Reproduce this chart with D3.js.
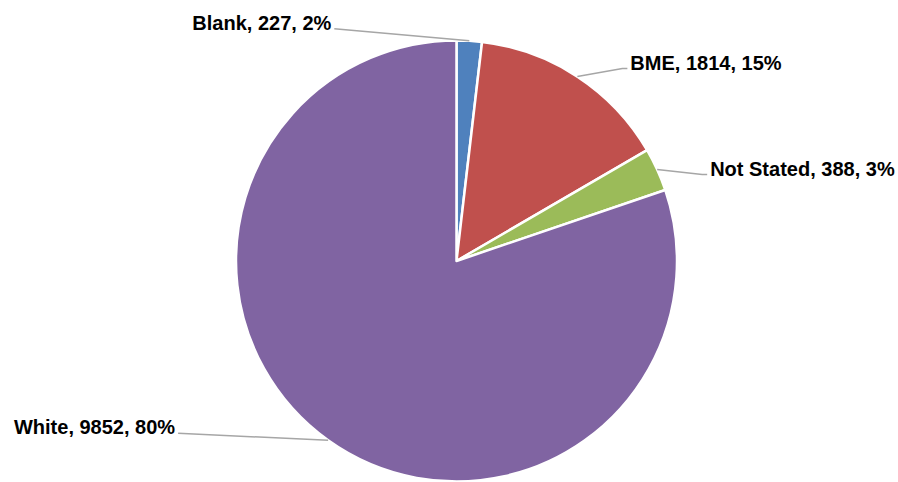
<!DOCTYPE html>
<html>
<head>
<meta charset="utf-8">
<script src="https://cdn.jsdelivr.net/npm/d3@7"></script>
<style>
  body { margin: 0; background: #fff; }
  svg { display: block; }
  .label { font-family: "Liberation Sans", Arial, sans-serif; font-weight: bold; font-size: 20px; fill: #000; }
</style>
</head>
<body>
<script>
// data
const categories = ["Blank", "BME", "Not Stated", "White"];
const counts = [227, 1814, 388, 9852];
const percents = ["2%", "15%", "3%", "80%"];
const colors = ["#4F81BD", "#C0504D", "#9BBB59", "#8064A2"];

// label placement relative to the slice's outer mid point
const labelOffsets = [
  { dx: -135, dy: -12, anchor: "end" },
  { dx: 50, dy: -8, anchor: "start" },
  { dx: 50, dy: 5, anchor: "start" },
  { dx: -150, dy: -7, anchor: "end" }
];

const width = 898, height = 482;
const cx = 456.5, cy = 261, radius = 220.5;

const svg = d3.select("body").append("svg")
  .attr("width", width)
  .attr("height", height);

const g = svg.append("g")
  .attr("transform", `translate(${cx}, ${cy})`);

const pie = d3.pie().sort(null).value(d => d);
const arcs = pie(counts);

const arc = d3.arc().innerRadius(0).outerRadius(radius);

g.selectAll("path.slice")
  .data(arcs)
  .enter().append("path")
  .attr("class", "slice")
  .attr("d", arc)
  .attr("fill", (d, i) => colors[i])
  .attr("stroke", "#fff")
  .attr("stroke-width", 2.5)
  .attr("stroke-linejoin", "round");

// leader lines + labels
arcs.forEach((d, i) => {
  const mid = (d.startAngle + d.endAngle) / 2;
  const px = radius * Math.sin(mid);
  const py = -radius * Math.cos(mid);
  const off = labelOffsets[i];
  const lx = px + off.dx, ly = py + off.dy;
  const pts = off.anchor === "start"
    ? [[px, py], [lx - 5, ly], [lx, ly]]
    : [[px, py], [lx, ly]];

  g.append("path")
    .attr("d", d3.line()(pts))
    .attr("fill", "none")
    .attr("stroke", "#A6A6A6")
    .attr("stroke-width", 1.5);

  g.append("text")
    .attr("class", "label")
    .attr("x", off.anchor === "start" ? lx + 3 : lx - 3)
    .attr("y", ly + 1)
    .attr("text-anchor", off.anchor)
    .text(`${categories[i]}, ${counts[i]}, ${percents[i]}`);
});
</script>
</body>
</html>
